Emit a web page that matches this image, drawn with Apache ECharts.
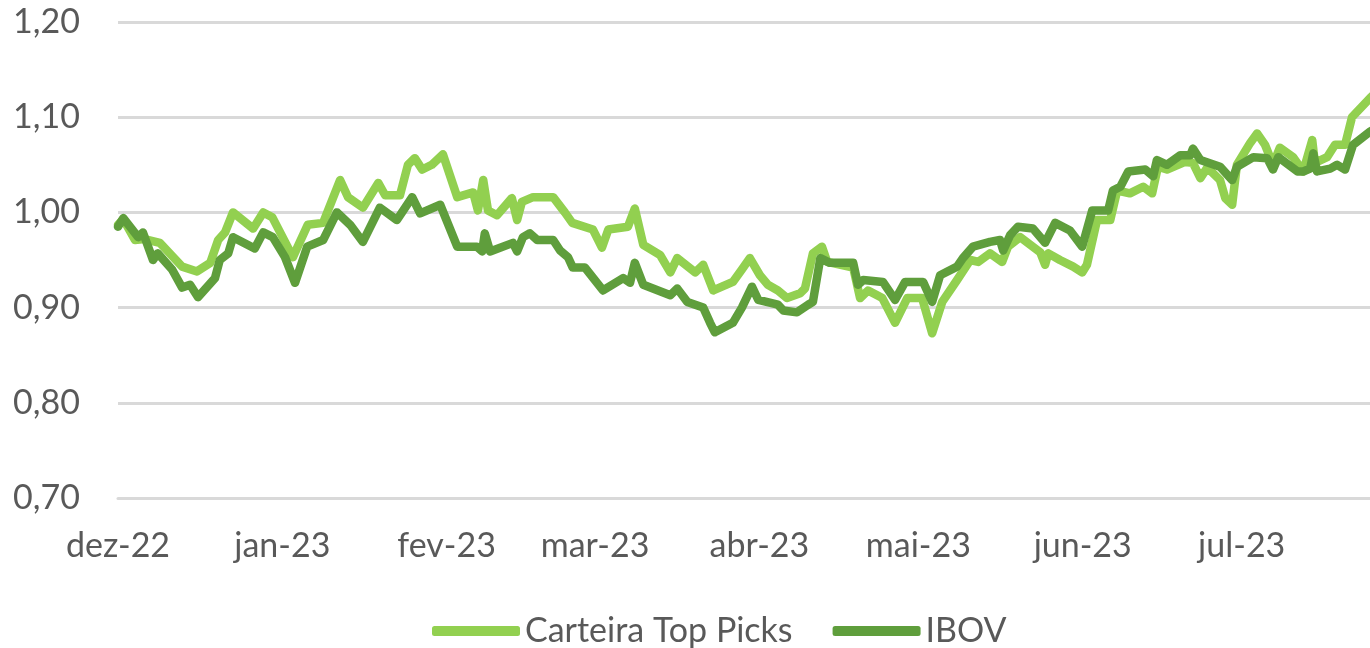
<!DOCTYPE html>
<html>
<head>
<meta charset="utf-8">
<script src="https://cdn.jsdelivr.net/npm/echarts@6/dist/echarts.min.js"></script>
<style>
  html, body { margin: 0; padding: 0; background: #fff; }
  #chart { width: 1370px; height: 648px; }
</style>
</head>
<body>
<div id="chart"></div>
<script>
(function () {
    // x values are days counted from 1 Dec 2022
    var startDate = [2022, 11, 1];
    var lastDay = 236.2;

    var monthLabels = ["dez-22", "jan-23", "fev-23", "mar-23", "abr-23", "mai-23", "jun-23", "jul-23"];
    var monthStarts = [[2022, 11], [2023, 0], [2023, 1], [2023, 2], [2023, 3], [2023, 4], [2023, 5], [2023, 6]];
    var yTicks = [0.7, 0.8, 0.9, 1.0, 1.1, 1.2];

    // Carteira Top Picks
    var topDays = [0, 1, 3.2, 5, 7.9, 12.1, 14.9, 17.4, 18.9, 20.2, 21.7, 25.5, 27.4, 29.1, 33, 35.8, 38.7,
        41.9, 43.4, 46.2, 49.1, 50.4, 53.2, 54.7, 56, 57.4, 59.2, 61.3, 64, 67, 67.9, 68.9, 69.8, 71.5,
        74.3, 75.3, 76.2, 78.3, 82.1, 84.3, 85.7, 89.6, 91.3, 92.5, 96.2, 97.5, 99.1, 102.3, 104.2,
        105.5, 108.9, 110.4, 112.3, 116, 117.7, 119.2, 121.1, 122.6, 124.5, 126.2, 128.7, 129.6, 131.1,
        132.8, 133.8, 138.7, 140, 141.5, 144.2, 146.6, 148.9, 151.7, 153.6, 155.5, 158.3, 160.8, 162.3,
        164.5, 166.8, 167.9, 170.2, 174, 174.9, 175.5, 177.7, 180.2, 181.9, 182.8, 184.7, 187.2, 188.5,
        190.9, 193.4, 195.1, 196.2, 197.9, 201.3, 202.8, 204.2, 205.5, 207.9, 208.9, 210.2, 211.1,
        213.6, 214.9, 216.4, 217.9, 219.2, 221.7, 223.6, 225.3, 225.8, 228.1, 229.6, 231.5, 232.8,
        236.2, 240];
    var topValues = [0.987, 0.993, 0.971, 0.972, 0.968, 0.943, 0.938, 0.947, 0.971, 0.979, 1.0, 0.983, 1.0,
        0.995, 0.953, 0.987, 0.989, 1.034, 1.016, 1.005, 1.031, 1.018, 1.018, 1.05, 1.057, 1.045, 1.05,
        1.061, 1.016, 1.021, 1.002, 1.034, 1.002, 0.997, 1.015, 0.992, 1.011, 1.016, 1.016, 1.0, 0.989,
        0.982, 0.963, 0.982, 0.985, 1.004, 0.966, 0.955, 0.937, 0.952, 0.937, 0.945, 0.918, 0.927, 0.94,
        0.952, 0.934, 0.924, 0.918, 0.91, 0.915, 0.92, 0.957, 0.964, 0.948, 0.942, 0.91, 0.918, 0.91,
        0.884, 0.91, 0.91, 0.873, 0.906, 0.929, 0.95, 0.948, 0.957, 0.948, 0.964, 0.974, 0.958, 0.945,
        0.957, 0.95, 0.943, 0.937, 0.945, 0.992, 0.992, 1.023, 1.02, 1.027, 1.02, 1.048, 1.045, 1.053,
        1.052, 1.036, 1.047, 1.034, 1.015, 1.008, 1.05, 1.073, 1.083, 1.071, 1.05, 1.068, 1.058, 1.043,
        1.076, 1.052, 1.058, 1.071, 1.071, 1.1, 1.12, 1.14];

    // IBOV
    var ibovDays = [0, 1, 3.8, 4.7, 6.6, 7.5, 10.2, 12.1, 13.6, 15.1, 18.3, 19.2, 20.8, 21.7, 25.8, 27.4,
        29.2, 31.5, 33.4, 35.7, 38.7, 41.3, 43.8, 46.2, 49.4, 52.6, 55.5, 57, 60.8, 64, 67.7, 68.7, 69.2,
        70.2, 74.5, 75.3, 76.4, 77.7, 79.1, 82.1, 83.4, 84.9, 85.8, 88.1, 91.5, 95.3, 96.6, 97.5, 99.1,
        104.2, 105.5, 107.4, 110.4, 111.7, 112.6, 116, 117.7, 119.6, 120.8, 124.5, 125.5, 128.1, 130.2,
        131.1, 132.5, 134.3, 138.7, 139.6, 140.6, 144.3, 146.6, 148.5, 151.9, 153.6, 155.1, 158.3, 159.4,
        161.3, 164.5, 166.4, 167, 168.3, 169.8, 172.6, 174.9, 176.8, 179.6, 181.9, 183.8, 186.8, 187.7,
        189.1, 190.6, 193.8, 195.3, 196, 197.9, 200.4, 202.3, 202.8, 204.2, 207.9, 210.2, 211.1, 214.2,
        216.8, 217.9, 218.9, 222.5, 223.6, 224.9, 225.5, 226.2, 228.7, 230, 231.5, 233, 236.2, 240];
    var ibovValues = [0.985, 0.994, 0.974, 0.979, 0.95, 0.957, 0.94, 0.921, 0.924, 0.911, 0.931, 0.95, 0.957,
        0.974, 0.962, 0.979, 0.974, 0.953, 0.926, 0.964, 0.971, 1.0, 0.987, 0.969, 1.005, 0.992, 1.016,
        0.999, 1.008, 0.964, 0.964, 0.959, 0.978, 0.959, 0.968, 0.959, 0.974, 0.978, 0.971, 0.971, 0.96,
        0.953, 0.942, 0.942, 0.918, 0.931, 0.926, 0.947, 0.924, 0.913, 0.92, 0.906, 0.9, 0.884, 0.874,
        0.884, 0.9, 0.922, 0.908, 0.903, 0.897, 0.895, 0.903, 0.906, 0.952, 0.947, 0.947, 0.924, 0.929,
        0.927, 0.908, 0.927, 0.927, 0.906, 0.934, 0.943, 0.952, 0.964, 0.969, 0.971, 0.96, 0.976, 0.985,
        0.983, 0.968, 0.989, 0.981, 0.964, 1.002, 1.002, 1.023, 1.027, 1.043, 1.045, 1.038, 1.055, 1.05,
        1.06, 1.06, 1.067, 1.055, 1.048, 1.034, 1.048, 1.058, 1.057, 1.045, 1.058, 1.043, 1.043, 1.046,
        1.062, 1.043, 1.046, 1.05, 1.045, 1.071, 1.085, 1.095];

    var DAY = 86400000;
    var t0 = Date.UTC(startDate[0], startDate[1], startDate[2]);

    function toPairs(days, values) {
        return days.map(function (d, i) {
            return [d, values[i]];
        });
    }

    // day offset of each month start
    var tickDays = monthStarts.map(function (m) {
        return Math.round((Date.UTC(m[0], m[1], 1) - t0) / DAY);
    });

    function labelFor(val) {
        var idx = tickDays.indexOf(Math.round(val));
        return idx >= 0 ? monthLabels[idx] : "";
    }

    var fontFamily = "Lato, 'Open Sans', sans-serif";
    var chart = echarts.init(document.getElementById("chart"));

    chart.setOption({
        animation: false,
        grid: { left: 118, right: 0, top: 22, bottom: 150, containLabel: false },
        legend: {
            top: 609,
            left: 427,
            icon: "roundRect",
            itemWidth: 88,
            itemHeight: 10,
            itemGap: 40,
            textStyle: { fontFamily: fontFamily, fontSize: 34, color: "#595959" },
            data: ["Carteira Top Picks", "IBOV"],
        },
        xAxis: {
            type: "value",
            min: 0,
            max: lastDay,
            axisLine: { show: true, lineStyle: { color: "#d9d9d9", width: 3 } },
            axisTick: { show: false },
            splitLine: { show: false },
            axisLabel: {
                customValues: tickDays,
                formatter: labelFor,
                fontFamily: fontFamily,
                fontSize: 34,
                color: "#595959",
                margin: 31,
                hideOverlap: false,
            },
        },
        yAxis: {
            type: "value",
            min: yTicks[0],
            max: yTicks[yTicks.length - 1],
            interval: 0.1,
            axisLine: { show: false },
            axisTick: { show: false },
            splitLine: { lineStyle: { color: "#d9d9d9", width: 3 } },
            axisLabel: {
                formatter: function (v) { return v.toFixed(2).replace(".", ","); },
                fontFamily: fontFamily,
                fontSize: 34,
                color: "#595959",
                margin: 38,
            },
        },
        series: [
            {
                name: "Carteira Top Picks",
                type: "line",
                data: toPairs(topDays, topValues),
                showSymbol: false,
                itemStyle: { color: "#92d050" },
                lineStyle: { color: "#92d050", width: 8.5, join: "round", cap: "round" },
                z: 2,
            },
            {
                name: "IBOV",
                type: "line",
                data: toPairs(ibovDays, ibovValues),
                showSymbol: false,
                itemStyle: { color: "#5f9e3c" },
                lineStyle: { color: "#5f9e3c", width: 8.5, join: "round", cap: "round" },
                z: 3,
            },
        ],
    });

    window.addEventListener("resize", function () {
        chart.resize();
    });
})();
</script>
</body>
</html>
